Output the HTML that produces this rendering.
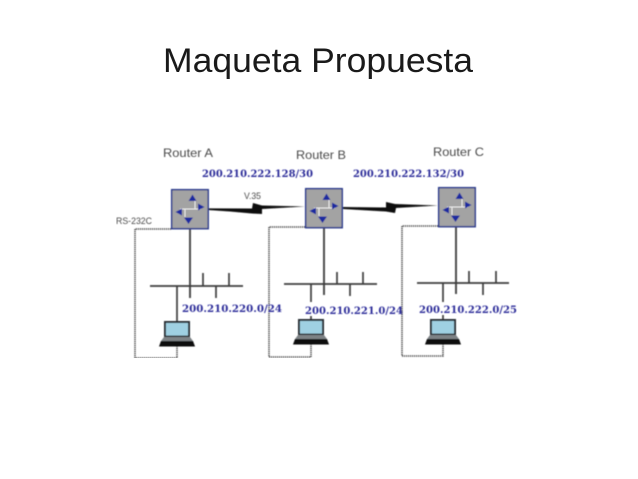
<!DOCTYPE html>
<html>
<head>
<meta charset="utf-8">
<style>
html,body{margin:0;padding:0;background:#fff;width:638px;height:479px;overflow:hidden}
svg{display:block}
.lbl{font-family:"DejaVu Serif","Liberation Serif",serif;font-weight:bold;font-size:10.5px;fill:#2e2e9a}
.sm{font-family:"Liberation Sans",sans-serif;fill:#4a4a4a}
.ln{stroke:#3c3c3c;stroke-width:1.7;fill:none}
.rl{stroke:#4e4e4e;stroke-width:2;fill:none}
.dot{stroke:#444;stroke-width:1.5;stroke-dasharray:1.2 .8;fill:none}
</style>
</head>
<body>
<svg width="638" height="479" viewBox="0 0 638 479" xmlns="http://www.w3.org/2000/svg">
<defs>
<filter id="b" x="0" y="0" width="100%" height="100%"><feGaussianBlur stdDeviation="0.4"/></filter>
<g id="router">
  <rect x="0.7" y="0.7" width="36.5" height="39" fill="#a3a3a3" stroke="#2b3a8c" stroke-width="1.5"/>
  <path d="M14 28V20H24V11M24 20H30M14 20H9" stroke="#eee" stroke-width="1" fill="none"/>
  <polygon points="21.5,5.5 17.5,12 25.5,12" fill="#1a2ca0"/>
  <polygon points="33.5,18 27,14.5 27,21.5" fill="#1a2ca0"/>
  <polygon points="4.5,23 11,19.5 11,26.5" fill="#1a2ca0"/>
  <polygon points="17.5,35 13,28.5 22,28.5" fill="#1a2ca0"/>
</g>
<g id="laptop">
  <rect x="4" y="0" width="26" height="16.5" fill="#2a2f35"/>
  <rect x="6" y="2" width="22" height="12.5" fill="#9fd0e2"/>
  <polygon points="4,16 30,16 33,20 1,20" fill="#7d8285"/>
  <polygon points="1,20 33,20 35,25.5 -1,25.5" fill="#0c0c0c"/>
</g>
</defs>

<text x="163" y="72" font-family="Liberation Sans, sans-serif" font-size="34" fill="#1a1a1a" textLength="310" lengthAdjust="spacingAndGlyphs">Maqueta Propuesta</text>

<g filter="url(#b)">
<!-- dotted console lines -->
<path class="dot" d="M171 229H135V358H177V345"/>
<path class="dot" d="M305 227H269V357H311V343"/>
<path class="dot" d="M438 226H402V356H443V343"/>

<!-- router uplinks and buses -->
<path class="rl" d="M190 229V298"/>
<path class="ln" d="M150 286H243M177 286V321M203 273V286M216 286V298M229 273V286"/>
<path class="rl" d="M324 227V295"/>
<path class="ln" d="M284 284H377M311 284V302M311 316V320M337 272V284M350 284V296M363 272V284"/>
<path class="rl" d="M456 226V294"/>
<path class="ln" d="M417 283H509M443 283V302M443 315V319M469 271V283M483 283V295M496 271V283"/>

<!-- serial links -->
<polygon points="208,208.4 252,208.5 253,203 262,205.5 305,206.5 262,209 262,214 252,213.5 230,211.5 208,210" fill="#0b0b0b"/>
<polygon points="343,207 386,207.5 386,202 395,204 438,205.5 396,208 395,213 386,211.5 343,209" fill="#0b0b0b"/>

<!-- routers -->
<use href="#router" x="171" y="189"/>
<use href="#router" x="305" y="188"/>
<use href="#router" x="438" y="187"/>

<!-- laptops -->
<use href="#laptop" x="160" y="321"/>
<use href="#laptop" x="294" y="319"/>
<use href="#laptop" x="426" y="319"/>

<!-- labels -->
<text class="sm" x="163" y="157" font-size="12" textLength="50" lengthAdjust="spacingAndGlyphs">Router A</text>
<text class="sm" x="296" y="159" font-size="12" textLength="50" lengthAdjust="spacingAndGlyphs">Router B</text>
<text class="sm" x="433" y="156" font-size="12" textLength="51" lengthAdjust="spacingAndGlyphs">Router C</text>
<text class="sm" x="244" y="199" font-size="9" textLength="17" lengthAdjust="spacingAndGlyphs">V.35</text>
<text class="sm" x="116" y="224" font-size="9" textLength="36" lengthAdjust="spacingAndGlyphs">RS-232C</text>

<text class="lbl" x="202" y="177" textLength="111" lengthAdjust="spacingAndGlyphs">200.210.222.128/30</text>
<text class="lbl" x="353" y="177" textLength="111" lengthAdjust="spacingAndGlyphs">200.210.222.132/30</text>
<text class="lbl" x="182" y="312" textLength="100" lengthAdjust="spacingAndGlyphs">200.210.220.0/24</text>
<text class="lbl" x="305" y="314" textLength="98" lengthAdjust="spacingAndGlyphs">200.210.221.0/24</text>
<text class="lbl" x="419" y="313" textLength="98" lengthAdjust="spacingAndGlyphs">200.210.222.0/25</text>
</g>
</svg>
</body>
</html>
